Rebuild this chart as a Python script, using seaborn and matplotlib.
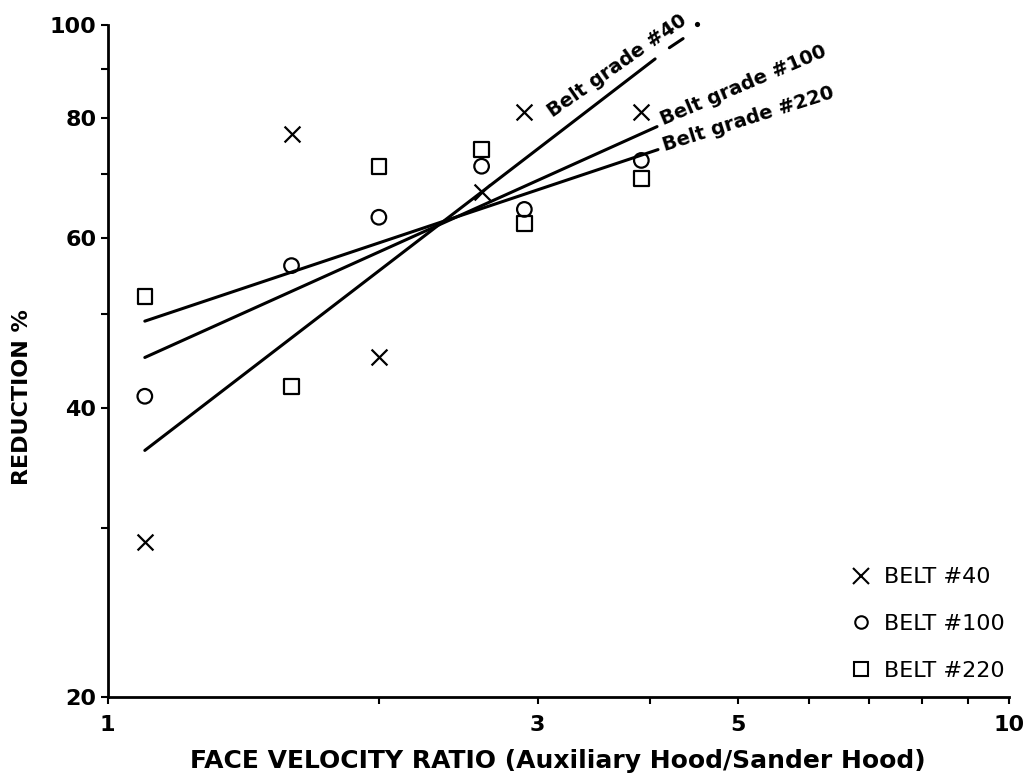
import numpy as np
import pandas as pd
import matplotlib
matplotlib.use("Agg")
import matplotlib.pyplot as plt
import seaborn as sns
from matplotlib.lines import Line2D
from matplotlib.ticker import FixedLocator, FixedFormatter, NullFormatter

# ---------------- data ----------------
ratio = [1.10, 1.60, 2.00, 2.60, 2.90, 3.91]
belt40 = [29.0, 77.0, 45.1, 67.1, 81.2, 81.2]
belt100 = [41.1, 56.2, 63.1, 71.3, 64.3, 72.3]
belt220 = [52.2, 42.1, 71.3, 74.2, 62.2, 69.2]
series_names = ["BELT #40", "BELT #100", "BELT #220"]

fit40_x = [1.10, 4.05]
fit40_y = [36.1, 92.2]
fit100_x = [1.10, 4.07]
fit100_y = [45.1, 78.4]
fit220_x = [1.10, 4.08]
fit220_y = [49.2, 74.2]
ext40_x = [4.20, 4.35]
ext40_y = [94.7, 96.8]
dot40_x = [4.51]
dot40_y = [100.2]
line_labels = ["Belt grade #40", "Belt grade #100", "Belt grade #220"]

x_major = [1, 3, 5, 10]
x_minor = [2, 4, 6, 7, 8, 9]
y_major = [20, 40, 60, 80, 100]
y_minor = [30, 50, 70, 90]

x_title = "FACE VELOCITY RATIO (Auxiliary Hood/Sander Hood)"
y_title = "REDUCTION %"

# ---------------- style ----------------
sns.set_theme(style="ticks")
plt.rcParams["font.family"] = ["DejaVu Sans"]
for k in ["text.color", "axes.labelcolor", "xtick.color", "ytick.color", "axes.edgecolor"]:
    plt.rcParams[k] = "black"

fig, ax = plt.subplots(figsize=(10.27, 7.76), dpi=100)
fig.subplots_adjust(left=107.5 / 1027, right=1009 / 1027,
                    bottom=1 - 697 / 776, top=1 - 25 / 776)
ax.set_xscale("log")
ax.set_yscale("log")

df = pd.DataFrame({
    "ratio": ratio * 3,
    "reduction": belt40 + belt100 + belt220,
    "belt": [series_names[0]] * 6 + [series_names[1]] * 6 + [series_names[2]] * 6,
})

# fit lines
for fx, fy in [(fit40_x, fit40_y), (fit100_x, fit100_y), (fit220_x, fit220_y)]:
    sns.lineplot(x=fx, y=fy, color="black", linewidth=2.2, ax=ax, legend=False)
sns.lineplot(x=ext40_x, y=ext40_y, color="black", linewidth=2.2, ax=ax, legend=False)
sns.scatterplot(x=dot40_x, y=dot40_y, marker="o", s=14, color="black",
                linewidth=0, ax=ax, legend=False, clip_on=False)

# scatter points
sns.scatterplot(data=df[df.belt == series_names[0]], x="ratio", y="reduction",
                marker="x", s=130, color="black", linewidth=1.6, ax=ax, legend=False)
sns.scatterplot(data=df[df.belt == series_names[1]], x="ratio", y="reduction",
                marker="o", s=110, facecolor="none", edgecolor="black",
                linewidth=1.6, ax=ax, legend=False)
sns.scatterplot(data=df[df.belt == series_names[2]], x="ratio", y="reduction",
                marker="s", s=110, facecolor="none", edgecolor="black",
                linewidth=1.6, ax=ax, legend=False)

ax.set_xlim(1, 10)
ax.set_ylim(20, 100)

# line annotations
ann = [
    (fit40_x[1], fit40_y[1], line_labels[0], (-102, -59), 35),
    (fit100_x[1], fit100_y[1], line_labels[1], (6, 1), 23),
    (fit220_x[1], fit220_y[1], line_labels[2], (7, -2), 17.5),
]
for xv, yv, txt, off, rot in ann:
    ax.annotate(txt, xy=(xv, yv), xytext=off, textcoords="offset pixels",
                rotation=rot, rotation_mode="anchor", ha="left", va="baseline",
                fontsize=14, fontweight="bold")

# ticks
ax.xaxis.set_major_locator(FixedLocator(x_major))
ax.xaxis.set_major_formatter(FixedFormatter([str(v) for v in x_major]))
ax.xaxis.set_minor_locator(FixedLocator(x_minor))
ax.xaxis.set_minor_formatter(NullFormatter())
ax.yaxis.set_major_locator(FixedLocator(y_major))
ax.yaxis.set_major_formatter(FixedFormatter([str(v) for v in y_major]))
ax.yaxis.set_minor_locator(FixedLocator(y_minor))
ax.yaxis.set_minor_formatter(NullFormatter())
ax.tick_params(which="both", direction="out", length=5, width=1.5, color="black")
ax.tick_params(axis="x", which="major", pad=8, labelsize=16)
ax.tick_params(axis="y", which="major", pad=3, labelsize=16)
for lbl in ax.get_xticklabels() + ax.get_yticklabels():
    lbl.set_fontweight("bold")

sns.despine(ax=ax)
for sp in ["left", "bottom"]:
    ax.spines[sp].set_linewidth(2)
    ax.spines[sp].set_color("black")

ax.set_xlabel(x_title, fontsize=18, fontweight="bold")
ax.xaxis.set_label_coords(0.5, -0.0775)
ax.set_ylabel(y_title, fontsize=16, fontweight="bold")
ax.yaxis.set_label_coords(-0.084, 0.446)

# legend
handles = [
    Line2D([], [], linestyle="none", marker="x", markersize=11, markeredgewidth=1.5,
           color="black"),
    Line2D([], [], linestyle="none", marker="o", markersize=9, markeredgewidth=1.5,
           markerfacecolor="none", markeredgecolor="black"),
    Line2D([], [], linestyle="none", marker="s", markersize=10, markeredgewidth=1.5,
           markerfacecolor="none", markeredgecolor="black"),
]
ax.legend(handles, series_names, loc="upper left", bbox_to_anchor=(0.824, 0.193),
          frameon=False, fontsize=16, handlelength=1.0, handletextpad=0.5,
          labelspacing=1.2, borderpad=0, borderaxespad=0)

fig.savefig("out.png", dpi=100, facecolor="white")
